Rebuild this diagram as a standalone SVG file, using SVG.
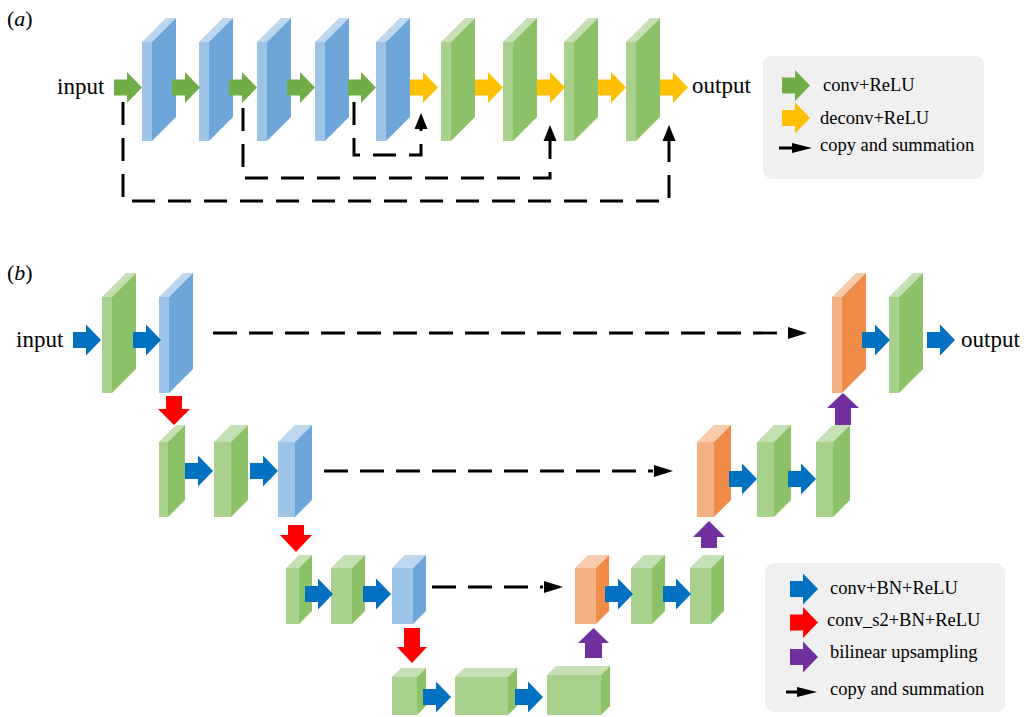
<svg xmlns="http://www.w3.org/2000/svg" xmlns:xlink="http://www.w3.org/1999/xlink" width="1030" height="717" viewBox="0 0 1030 717">
<style>
text{font-family:"Liberation Serif","Times New Roman",serif;fill:#000}
.lbl{font-size:23px}
.leg{font-size:18.5px}
.cap{font-size:22px}
.bf{fill:#9dc3e6}.bt{fill:#bdd7ee}.bs{fill:#6fa6da}
.gf{fill:#a9d18e}.gt{fill:#c5e0b4}.gs{fill:#8cc168}
.of{fill:#f4b183}.ot{fill:#f8cbad}.os{fill:#f08b48}
.ag{fill:#70ad47}.ay{fill:#ffc000}.ab{fill:#0070c0}.ar{fill:#ff0000}.ap{fill:#7030a0}
.dashA{fill:none;stroke:#000;stroke-width:3;stroke-dasharray:23 13}
.dashB{fill:none;stroke:#000;stroke-width:2.8;stroke-dasharray:24 12}
.box{fill:#f0f0f0}
</style>
<defs>
<path id="rarr" d="M0,-8H13V-15.5L28,0L13,15.5V8H0Z"/>
</defs>
<rect width="1030" height="717" fill="#fff"/>

<text class="cap" x="7" y="26">(<tspan font-style="italic">a</tspan>)</text>
<text class="cap" x="7" y="280">(<tspan font-style="italic">b</tspan>)</text>

<!-- Panel a nodes -->
<g id="a-input"><text class="lbl" x="57" y="94">input</text></g>
<g id="a-output"><text class="lbl" x="692" y="93">output</text></g>
<g id="a-e1"><rect class="bf" x="142" y="42" width="10" height="99"/><polygon class="bt" points="142,42 152,42 176,18 166,18"/><polygon class="bs" points="152,42 176,18 176,117 152,141"/></g>
<g id="a-e2"><rect class="bf" x="199" y="42" width="10" height="99"/><polygon class="bt" points="199,42 209,42 233,18 223,18"/><polygon class="bs" points="209,42 233,18 233,117 209,141"/></g>
<g id="a-e3"><rect class="bf" x="257" y="42" width="10" height="99"/><polygon class="bt" points="257,42 267,42 291,18 281,18"/><polygon class="bs" points="267,42 291,18 291,117 267,141"/></g>
<g id="a-e4"><rect class="bf" x="315" y="42" width="10" height="99"/><polygon class="bt" points="315,42 325,42 349,18 339,18"/><polygon class="bs" points="325,42 349,18 349,117 325,141"/></g>
<g id="a-e5"><rect class="bf" x="376" y="42" width="10" height="99"/><polygon class="bt" points="376,42 386,42 410,18 400,18"/><polygon class="bs" points="386,42 410,18 410,117 386,141"/></g>
<g id="a-d1"><rect class="gf" x="441" y="42" width="10" height="99"/><polygon class="gt" points="441,42 451,42 475,18 465,18"/><polygon class="gs" points="451,42 475,18 475,117 451,141"/></g>
<g id="a-d2"><rect class="gf" x="503" y="42" width="10" height="99"/><polygon class="gt" points="503,42 513,42 537,18 527,18"/><polygon class="gs" points="513,42 537,18 537,117 513,141"/></g>
<g id="a-d3"><rect class="gf" x="564" y="42" width="10" height="99"/><polygon class="gt" points="564,42 574,42 598,18 588,18"/><polygon class="gs" points="574,42 598,18 598,117 574,141"/></g>
<g id="a-d4"><rect class="gf" x="626" y="42" width="10" height="99"/><polygon class="gt" points="626,42 636,42 660,18 650,18"/><polygon class="gs" points="636,42 660,18 660,117 636,141"/></g>

<!-- Panel b nodes -->
<g id="b-input"><text class="lbl" x="16" y="347">input</text></g>
<g id="b-output"><text class="lbl" x="961" y="347">output</text></g>
<g id="b-r1-1"><rect class="gf" x="102" y="297" width="10" height="96"/><polygon class="gt" points="102,297 112,297 136,273 126,273"/><polygon class="gs" points="112,297 136,273 136,369 112,393"/></g>
<g id="b-r1-2"><rect class="bf" x="159" y="297" width="10" height="96"/><polygon class="bt" points="159,297 169,297 193,273 183,273"/><polygon class="bs" points="169,297 193,273 193,369 169,393"/></g>
<g id="b-r1-3"><rect class="of" x="832" y="297" width="10" height="96"/><polygon class="ot" points="832,297 842,297 866,273 856,273"/><polygon class="os" points="842,297 866,273 866,369 842,393"/></g>
<g id="b-r1-4"><rect class="gf" x="889" y="297" width="10" height="96"/><polygon class="gt" points="889,297 899,297 923,273 913,273"/><polygon class="gs" points="899,297 923,273 923,369 899,393"/></g>

<g id="b-r2-1"><rect class="gf" x="159" y="442" width="9" height="75"/><polygon class="gt" points="159,442 168,442 185,425 176,425"/><polygon class="gs" points="168,442 185,425 185,500 168,517"/></g>
<g id="b-r2-2"><rect class="gf" x="214" y="442" width="17" height="75"/><polygon class="gt" points="214,442 231,442 248,425 231,425"/><polygon class="gs" points="231,442 248,425 248,500 231,517"/></g>
<g id="b-r2-3"><rect class="bf" x="278" y="442" width="17" height="75"/><polygon class="bt" points="278,442 295,442 312,425 295,425"/><polygon class="bs" points="295,442 312,425 312,500 295,517"/></g>
<g id="b-r2-4"><rect class="of" x="697" y="442" width="17" height="75"/><polygon class="ot" points="697,442 714,442 731,425 714,425"/><polygon class="os" points="714,442 731,425 731,500 714,517"/></g>
<g id="b-r2-5"><rect class="gf" x="757" y="442" width="17" height="75"/><polygon class="gt" points="757,442 774,442 791,425 774,425"/><polygon class="gs" points="774,442 791,425 791,500 774,517"/></g>
<g id="b-r2-6"><rect class="gf" x="816" y="442" width="17" height="75"/><polygon class="gt" points="816,442 833,442 850,425 833,425"/><polygon class="gs" points="833,442 850,425 850,500 833,517"/></g>

<g id="b-r3-1"><rect class="gf" x="286" y="568" width="13" height="56"/><polygon class="gt" points="286,568 299,568 312,555 299,555"/><polygon class="gs" points="299,568 312,555 312,611 299,624"/></g>
<g id="b-r3-2"><rect class="gf" x="331" y="568" width="21" height="56"/><polygon class="gt" points="331,568 352,568 365,555 344,555"/><polygon class="gs" points="352,568 365,555 365,611 352,624"/></g>
<g id="b-r3-3"><rect class="bf" x="392" y="568" width="21" height="56"/><polygon class="bt" points="392,568 413,568 426,555 405,555"/><polygon class="bs" points="413,568 426,555 426,611 413,624"/></g>
<g id="b-r3-4"><rect class="of" x="575" y="568" width="21" height="56"/><polygon class="ot" points="575,568 596,568 609,555 588,555"/><polygon class="os" points="596,568 609,555 609,611 596,624"/></g>
<g id="b-r3-5"><rect class="gf" x="631" y="568" width="21" height="56"/><polygon class="gt" points="631,568 652,568 665,555 644,555"/><polygon class="gs" points="652,568 665,555 665,611 652,624"/></g>
<g id="b-r3-6"><rect class="gf" x="690" y="568" width="21" height="56"/><polygon class="gt" points="690,568 711,568 724,555 703,555"/><polygon class="gs" points="711,568 724,555 724,611 711,624"/></g>

<g id="b-r4-1"><rect class="gf" x="392" y="677" width="25" height="38"/><polygon class="gt" points="392,677 417,677 426,668 401,668"/><polygon class="gs" points="417,677 426,668 426,706 417,715"/></g>
<g id="b-r4-2"><rect class="gf" x="455" y="677" width="53" height="38"/><polygon class="gt" points="455,677 508,677 517,668 464,668"/><polygon class="gs" points="508,677 517,668 517,706 508,715"/></g>
<g id="b-r4-3"><rect class="gf" x="547" y="675" width="54" height="40"/><polygon class="gt" points="547,675 601,675 610,666 556,666"/><polygon class="gs" points="601,675 610,666 610,706 601,715"/></g>

<!-- Connectors -->
<g id="connectors">
  <!-- panel a block arrows -->
  <use href="#rarr" class="ag" transform="translate(114,87.5)"/>
  <use href="#rarr" class="ag" transform="translate(172,87.5)"/>
  <use href="#rarr" class="ag" transform="translate(229,87.5)"/>
  <use href="#rarr" class="ag" transform="translate(287,87.5)"/>
  <use href="#rarr" class="ag" transform="translate(348,87.5)"/>
  <use href="#rarr" class="ay" transform="translate(410,87.5)"/>
  <use href="#rarr" class="ay" transform="translate(475,87.5)"/>
  <use href="#rarr" class="ay" transform="translate(537,87.5)"/>
  <use href="#rarr" class="ay" transform="translate(598,87.5)"/>
  <use href="#rarr" class="ay" transform="translate(660,87.5)"/>
  <!-- panel a skip connections -->
  <path class="dashA" d="M123,102V201H669V141"/>
  <polygon points="669,125 662.5,141 675.5,141"/>
  <path class="dashA" d="M243,108V178H550V141"/>
  <polygon points="550,125 543.5,141 556.5,141"/>
  <path class="dashA" d="M354,102V155H421V129"/>
  <polygon points="421,113 414.5,129 427.5,129"/>

  <!-- panel b blue arrows -->
  <use href="#rarr" class="ab" transform="translate(73,340)"/>
  <use href="#rarr" class="ab" transform="translate(133,340)"/>
  <use href="#rarr" class="ab" transform="translate(862,340)"/>
  <use href="#rarr" class="ab" transform="translate(927,340)"/>
  <use href="#rarr" class="ab" transform="translate(185,471)"/>
  <use href="#rarr" class="ab" transform="translate(250,471)"/>
  <use href="#rarr" class="ab" transform="translate(729,479)"/>
  <use href="#rarr" class="ab" transform="translate(788,479)"/>
  <use href="#rarr" class="ab" transform="translate(305,594)"/>
  <use href="#rarr" class="ab" transform="translate(363,594)"/>
  <use href="#rarr" class="ab" transform="translate(605,594)"/>
  <use href="#rarr" class="ab" transform="translate(663,594)"/>
  <use href="#rarr" class="ab" transform="translate(423,697)"/>
  <use href="#rarr" class="ab" transform="translate(515,697)"/>
  <!-- red downsampling arrows -->
  <path class="ar" d="M166,396H182V409H190L174,425L158,409H166Z"/>
  <path class="ar" d="M288,525H304V535H312L296,552L280,535H288Z"/>
  <path class="ar" d="M404,628H420V647H427L412,663L397,647H404Z"/>
  <!-- purple upsampling arrows -->
  <path class="ap" d="M835,425H851V408H859L843,393L827,408H835Z"/>
  <path class="ap" d="M701,548H717V537H725L709,521L693,537H701Z"/>
  <path class="ap" d="M585,658H602V643H609L593.5,628L578,643H585Z"/>
  <!-- panel b skip connections -->
  <path class="dashB" d="M213,333H787"/>
  <polygon points="788,327 807,333 788,339"/>
  <path class="dashB" d="M324,471H653"/>
  <polygon points="654,465 673,471 654,477"/>
  <path class="dashB" d="M432,587H543"/>
  <polygon points="544,581 563,587 544,593"/>
</g>

<!-- Legend a -->
<g id="legend-a">
  <rect class="box" x="763" y="56" width="221" height="123" rx="9"/>
  <use href="#rarr" class="ag" transform="translate(782,85.5)"/>
  <text class="leg" x="823" y="91">conv+ReLU</text>
  <use href="#rarr" class="ay" transform="translate(782,118)"/>
  <text class="leg" x="820" y="124">deconv+ReLU</text>
  <line x1="779" y1="148" x2="795" y2="148" stroke="#000" stroke-width="3"/>
  <polygon points="792,143 812,148 792,153"/>
  <text class="leg" x="820" y="151">copy and summation</text>
</g>

<!-- Legend b -->
<g id="legend-b">
  <rect class="box" x="765" y="563" width="240" height="149" rx="9"/>
  <use href="#rarr" class="ab" transform="translate(790,589)"/>
  <text class="leg" x="830" y="594">conv+BN+ReLU</text>
  <use href="#rarr" class="ar" transform="translate(790,622.5)"/>
  <text class="leg" x="827" y="626">conv_s2+BN+ReLU</text>
  <use href="#rarr" class="ap" transform="translate(790,657)"/>
  <text class="leg" x="830" y="658">bilinear upsampling</text>
  <line x1="786" y1="692" x2="800" y2="692" stroke="#000" stroke-width="3"/>
  <polygon points="797,687 817,692 797,697"/>
  <text class="leg" x="830" y="695">copy and summation</text>
</g>
</svg>
